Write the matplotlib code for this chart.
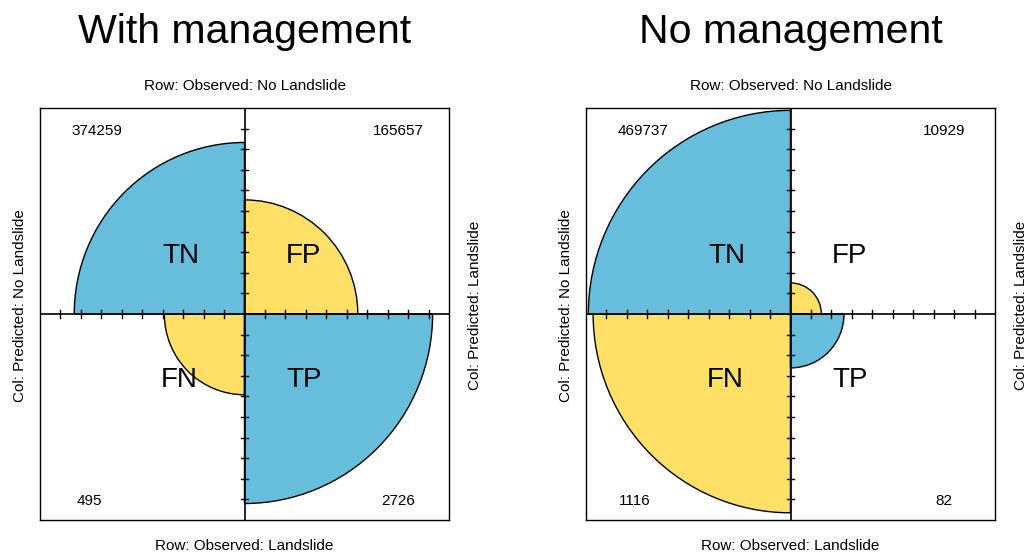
import matplotlib.pyplot as plt
from matplotlib.patches import Wedge
import numpy as np

plt.rcParams['font.family'] = ['Liberation Sans', 'DejaVu Sans']

titles = ["With management", "No management"]
# counts laid out as [[TN, FP], [FN, TP]]
with_mgmt = [[374259, 165657], [495, 2726]]
no_mgmt = [[469737, 10929], [1116, 82]]
cell_labels = [["TN", "FP"], ["FN", "TP"]]
cell_colors = [["#67bedc", "#ffe066"], ["#ffe066", "#67bedc"]]
row_labels = ["Row: Observed: No Landslide", "Row: Observed: Landslide"]
col_labels = ["Col: Predicted: No Landslide", "Col: Predicted: Landslide"]

fig = plt.figure(figsize=(10.32, 5.54), dpi=100)


def fourfold(ax, table, title):
    table = np.array(table, dtype=float)
    # standardize each row to sum to one, radius ~ sqrt(proportion)
    props = table / table.sum(axis=1, keepdims=True)
    angles = [[(90, 180), (0, 90)], [(180, 270), (270, 360)]]
    for i in range(2):
        for j in range(2):
            r = np.sqrt(props[i, j])
            t1, t2 = angles[i][j]
            ax.add_patch(Wedge((0, 0), r, t1, t2, facecolor=cell_colors[i][j],
                               edgecolor='black', lw=1.0, zorder=2))
    # center axes
    ax.plot([-1, 1], [0, 0], color='black', lw=1.2, zorder=3)
    ax.plot([0, 0], [-1, 1], color='black', lw=1.2, zorder=3)
    ticks = np.arange(1, 10) * 0.1
    for t in np.concatenate([ticks, -ticks]):
        ax.plot([t, t], [-0.018, 0.018], color='black', lw=1.0, zorder=3)
        ax.plot([-0.018, 0.018], [t, t], color='black', lw=1.0, zorder=3)

    pos = [[(-0.31, 0.28), (0.29, 0.28)], [(-0.32, -0.32), (0.29, -0.32)]]
    cnt = [[(-0.72, 0.89), (0.75, 0.89)], [(-0.76, -0.91), (0.75, -0.91)]]
    for i in range(2):
        for j in range(2):
            ax.text(*pos[i][j], cell_labels[i][j], fontsize=20,
                    ha='center', va='center', zorder=4)
            ax.text(*cnt[i][j], str(int(table[i, j])), fontsize=11,
                    ha='center', va='center', zorder=4)

    ax.set_xlim(-1, 1)
    ax.set_ylim(-1, 1)
    ax.set_xticks([])
    ax.set_yticks([])
    for s in ax.spines.values():
        s.set_linewidth(1.0)

    ax.text(0, 1.105, row_labels[0], fontsize=11, ha='center', va='center',
            clip_on=False)
    ax.text(0, -1.125, row_labels[1], fontsize=11, ha='center', va='center',
            clip_on=False)
    ax.text(-1.10, 0.04, col_labels[0], fontsize=11, ha='center', va='center',
            rotation=90, clip_on=False)
    ax.text(1.125, 0.04, col_labels[1], fontsize=11, ha='center', va='center',
            rotation=90, clip_on=False)
    ax.text(0, 1.315, title, fontsize=29.5, ha='center', va='baseline',
            clip_on=False)


ax1 = fig.add_axes([40 / 1032, 34 / 554, 409 / 1032, 412 / 554])
ax2 = fig.add_axes([586 / 1032, 34 / 554, 409 / 1032, 412 / 554])
fourfold(ax1, with_mgmt, titles[0])
fourfold(ax2, no_mgmt, titles[1])

fig.savefig("out.png", dpi=100)
